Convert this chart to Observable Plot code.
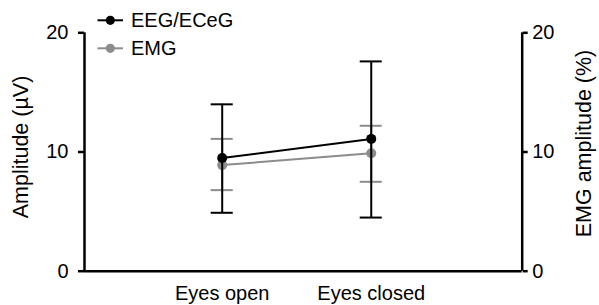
<!DOCTYPE html>
<html>
<head>
<meta charset="utf-8">
<script src="https://cdn.jsdelivr.net/npm/d3@7"></script>
<script src="https://cdn.jsdelivr.net/npm/@observablehq/plot@0.6"></script>
<style>
  html, body { margin: 0; padding: 0; background: #fff; }
  #wrap { position: relative; width: 599px; height: 305px; font-family: "Liberation Sans", Arial, sans-serif; }
  #legend { position: absolute; left: 0; top: 0; pointer-events: none; }
</style>
</head>
<body>
<div id="wrap"></div>
<script>
// ---- data ----
const categories = ["Eyes open", "Eyes closed"];
const seriesNames = ["EEG/ECeG", "EMG"];
const seriesColors = ["#000000", "#8c8c8c"];
const eegMean  = [9.5, 11.1];
const eegUpper = [14.0, 17.6];
const eegLower = [4.9, 4.5];
const emgMean  = [8.9, 9.9];
const emgUpper = [11.1, 12.2];
const emgLower = [6.8, 7.5];
const yTicks = [0, 10, 20];
const yDomain = [0, 20];
const leftTitle = "Amplitude (µV)";
const rightTitle = "EMG amplitude (%)";

const W = 599, H = 305;
const xDomain = [-0.924, 2.013];
const capHalf = 0.074;

function rowsFor(name, mean, lo, hi) {
  return categories.map((c, i) => ({series: name, x: i, mean: mean[i], lo: lo[i], hi: hi[i]}));
}
const eeg = rowsFor(seriesNames[0], eegMean, eegLower, eegUpper);
const emg = rowsFor(seriesNames[1], emgMean, emgLower, emgUpper);

function seriesMarks(rows, color) {
  return [
    Plot.ruleX(rows, {x: "x", y1: "lo", y2: "hi", stroke: color, strokeWidth: 2}),
    Plot.ruleY(rows, {y: "lo", x1: d => d.x - capHalf, x2: d => d.x + capHalf, stroke: color, strokeWidth: 2}),
    Plot.ruleY(rows, {y: "hi", x1: d => d.x - capHalf, x2: d => d.x + capHalf, stroke: color, strokeWidth: 2}),
    Plot.line(rows, {x: "x", y: "mean", stroke: color, strokeWidth: 2}),
    Plot.dot(rows, {x: "x", y: "mean", fill: color, r: 5})
  ];
}

const chart = Plot.plot({
  width: W,
  height: H,
  marginLeft: 84,
  marginRight: 77.3,
  marginTop: 32.3,
  marginBottom: 34.3,
  style: {fontFamily: "Liberation Sans, Arial, sans-serif", fontSize: "20px", color: "#000", background: "#fff"},
  x: {domain: xDomain},
  y: {domain: yDomain},
  marks: [
    Plot.ruleX([xDomain[0], xDomain[1]], {y1: yDomain[0], y2: yDomain[1], strokeWidth: 2.5}),
    Plot.ruleY([yDomain[0]], {strokeWidth: 2.5}),
    ...seriesMarks(emg, seriesColors[1]),
    ...seriesMarks(eeg, seriesColors[0]),
    Plot.axisY({anchor: "left", ticks: yTicks, tickSize: 6, tickPadding: 10, strokeWidth: 2.5, fontSize: 20, label: null}),
    Plot.axisY({anchor: "right", ticks: yTicks, tickSize: 5, tickPadding: 5, strokeWidth: 2.5, fontSize: 20, label: null}),
    Plot.axisX({anchor: "bottom", ticks: [0, 1], tickFormat: i => categories[i], tickSize: 0, tickPadding: 14.4, fontSize: 20, label: null}),
    Plot.text([leftTitle], {frameAnchor: "left", text: d => d, rotate: -90, dx: -63, dy: -5, fontSize: 21.5, textAnchor: "middle", lineAnchor: "middle", fill: "#000"}),
    Plot.text([rightTitle], {frameAnchor: "right", text: d => d, rotate: -90, dx: 62, dy: -8.5, fontSize: 21.5, textAnchor: "middle", lineAnchor: "middle", fill: "#000"})
  ]
});
document.getElementById("wrap").appendChild(chart);

// legend overlay
const leg = d3.select("#wrap").append("svg")
  .attr("id", "legend").attr("width", W).attr("height", 70);
seriesNames.forEach((name, i) => {
  const cy = 20.3 + i * 28;
  const g = leg.append("g");
  g.append("line").attr("x1", 97.5).attr("x2", 123).attr("y1", cy).attr("y2", cy)
    .attr("stroke", seriesColors[i]).attr("stroke-width", 2);
  g.append("circle").attr("cx", 110.3).attr("cy", cy).attr("r", 4.6).attr("fill", seriesColors[i]);
  g.append("text").attr("x", 131).attr("y", cy).attr("dy", "0.35em")
    .attr("font-family", "Liberation Sans, Arial, sans-serif").attr("font-size", 20)
    .attr("fill", "#000").text(name);
});
</script>
</body>
</html>
